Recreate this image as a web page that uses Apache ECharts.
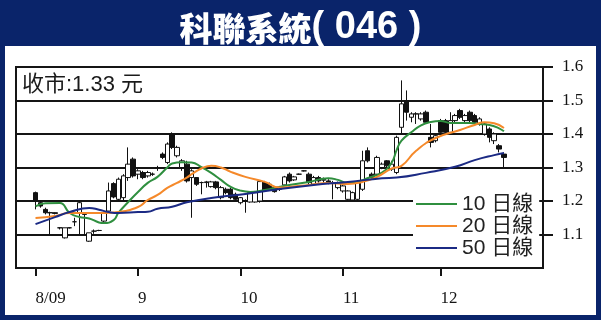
<!DOCTYPE html>
<html>
<head>
<meta charset="utf-8">
<script src="https://cdn.jsdelivr.net/npm/echarts@6/dist/echarts.min.js"></script>
<style>html,body{margin:0;padding:0;background:#0a246a;}#c{width:601px;height:320px;}</style>
</head>
<body>
<div id="c"></div>
<script>
// ---- data ----
const titleName = '科聯系統';
const titleCode = '046';
const closeLabel = '收市:1.33 元';
const slotCount = 109;              // trading-day slots on the x axis
const monthStart = [4, 25, 46, 67, 87];
const monthLabels = ['8/09', '9', '10', '11', '12'];
const yTicks = [1.1, 1.2, 1.3, 1.4, 1.5, 1.6];
const firstDay = 4;
// [open, close, low, high]
const candles = [
  [1.225,1.200,1.175,1.228],[1.195,1.185,1.180,1.200],[1.175,1.165,1.160,1.180],[1.165,1.165,1.100,1.168],
  [1.165,1.163,1.160,1.166],[1.120,1.120,1.115,1.121],[1.090,1.120,1.088,1.120],[1.120,1.120,1.118,1.121],
  [1.138,1.138,1.125,1.150],[1.165,1.195,1.100,1.198],[1.165,1.160,1.100,1.166],[1.080,1.105,1.078,1.105],
  [1.110,1.110,1.102,1.115],[1.112,1.112,1.110,1.114],[1.140,1.165,1.135,1.168],[1.170,1.230,1.165,1.255],
  [1.252,1.212,1.208,1.256],[1.205,1.265,1.200,1.270],[1.210,1.275,1.200,1.280],[1.270,1.310,1.260,1.360],
  [1.325,1.275,1.270,1.330],[1.280,1.290,1.265,1.295],[1.285,1.270,1.265,1.290],[1.275,1.285,1.270,1.290],
  [1.280,1.280,1.275,1.285],[1.300,1.300,1.290,1.305],[1.340,1.330,1.325,1.345],[1.315,1.370,1.310,1.375],
  [1.400,1.360,1.355,1.405],[1.335,1.360,1.330,1.365],[1.300,1.320,1.290,1.325],[1.310,1.260,1.255,1.320],
  [1.270,1.290,1.150,1.295],[1.270,1.250,1.245,1.270],[1.255,1.255,1.220,1.258],[1.255,1.257,1.240,1.260],
  [1.243,1.257,1.240,1.260],[1.257,1.240,1.235,1.260],[1.210,1.240,1.205,1.245],[1.235,1.225,1.220,1.240],
  [1.235,1.210,1.205,1.240],[1.220,1.205,1.200,1.225],[1.195,1.210,1.190,1.212],[1.200,1.200,1.165,1.205],
  [1.197,1.225,1.195,1.228],[1.197,1.225,1.195,1.230],[1.200,1.258,1.195,1.260],[1.255,1.235,1.230,1.260],
  [1.250,1.233,1.230,1.255],[1.240,1.228,1.225,1.242],[1.235,1.240,1.230,1.245],[1.248,1.272,1.245,1.275],
  [1.280,1.260,1.255,1.285],[1.263,1.272,1.260,1.275],[1.280,1.280,1.278,1.282],[1.290,1.290,1.288,1.292],
  [1.280,1.255,1.250,1.285],[1.250,1.270,1.245,1.275],[1.270,1.260,1.255,1.275],[1.262,1.265,1.255,1.270],
  [1.260,1.255,1.250,1.265],[1.255,1.255,1.205,1.260],[1.240,1.255,1.235,1.258],[1.230,1.245,1.225,1.248],
  [1.205,1.230,1.200,1.232],[1.203,1.225,1.200,1.228],[1.205,1.255,1.200,1.260],[1.235,1.320,1.230,1.350],
  [1.350,1.320,1.315,1.360],[1.280,1.270,1.265,1.285],[1.280,1.330,1.275,1.335],[1.300,1.310,1.295,1.315],
  [1.320,1.305,1.300,1.322],[1.295,1.310,1.290,1.320],[1.285,1.390,1.280,1.395],[1.420,1.490,1.400,1.560],
  [1.500,1.465,1.440,1.530],[1.450,1.460,1.435,1.465],[1.460,1.460,1.430,1.465],[1.445,1.460,1.440,1.465],
  [1.465,1.435,1.430,1.470],[1.390,1.375,1.360,1.430],[1.380,1.395,1.375,1.400],[1.440,1.405,1.400,1.445],
  [1.440,1.405,1.400,1.445],[1.405,1.440,1.400,1.465],[1.440,1.455,1.435,1.460],[1.470,1.450,1.445,1.475],
  [1.440,1.455,1.435,1.460],[1.465,1.440,1.435,1.470],[1.455,1.435,1.430,1.460],[1.430,1.445,1.425,1.450],
  [1.400,1.430,1.395,1.435],[1.415,1.390,1.375,1.420],[1.380,1.400,1.370,1.405],[1.365,1.355,1.345,1.370],
  [1.340,1.330,1.300,1.345]
];
const maNames = ['10 日線', '20 日線', '50 日線'];
// [day index, value]
const ma10 = [[4,1.184],[6,1.193],[9,1.194],[11,1.164],[13,1.152],[15,1.148],[17,1.136],[18,1.134],[20,1.143],[21,1.165],[23,1.197],[25,1.227],[27,1.254],[29,1.272],[31,1.300],[32,1.312],[34,1.316],[36,1.315],[38,1.301],[40,1.284],[42,1.263],[44,1.242],[46,1.231],[48,1.227],[51,1.233],[54,1.242],[56,1.248],[60,1.257],[64,1.268],[66,1.263],[68,1.254],[70,1.257],[72,1.268],[75,1.285],[77,1.315],[78,1.352],[79,1.380],[81,1.405],[83,1.426],[85,1.436],[87,1.439],[89,1.433],[91,1.433],[93,1.433],[95,1.430],[97,1.427],[99,1.417],[100,1.408]];
const ma20 = [[4,1.149],[8,1.155],[11,1.164],[15,1.164],[18,1.164],[21,1.167],[25,1.182],[27,1.203],[29,1.218],[31,1.239],[33,1.254],[35,1.270],[36,1.280],[38,1.297],[40,1.305],[42,1.300],[44,1.287],[47,1.272],[51,1.257],[54,1.240],[56,1.242],[60,1.248],[64,1.254],[68,1.251],[71,1.257],[74,1.272],[77,1.297],[79,1.305],[82,1.350],[86,1.388],[91,1.412],[94,1.427],[96,1.435],[98,1.432],[100,1.418]];
const ma50 = [[4,1.131],[8,1.152],[11,1.167],[15,1.179],[17,1.174],[19,1.167],[21,1.164],[25,1.167],[27,1.168],[29,1.177],[32,1.183],[35,1.196],[40,1.209],[47,1.221],[54,1.236],[61,1.248],[68,1.257],[75,1.268],[78,1.270],[84,1.284],[90,1.302],[94,1.322],[98,1.337],[100,1.343]];

// ---- chart ----
const categories = Array.from({length: slotCount}, (_, i) => {
  const k = monthStart.indexOf(i);
  return k >= 0 ? monthLabels[k] : String(i);
});
const candleRows = candles.map((c, k) => [firstDay + k, c[0], c[1], c[2], c[3]]);
const isMonth = (idx) => monthStart.indexOf(idx) >= 0;

const chart = echarts.init(document.getElementById('c'), null, {renderer: 'canvas'});
const serif = '"Liberation Serif", "DejaVu Serif", serif';
const sans = '"Liberation Sans", "Noto Sans CJK TC", sans-serif';
chart.setOption({
  backgroundColor: '#0a246a',
  animation: false,
  title: {
    text: '{a|' + titleName + '}{b|( ' + titleCode + ' )}', left: 'center', top: 3,
    textStyle: {
      rich: {
        a: {color: '#ffffff', fontSize: 33, fontWeight: 900, fontFamily: '"Noto Sans CJK TC", sans-serif', verticalAlign: 'middle', lineHeight: 40},
        b: {color: '#ffffff', fontSize: 38, fontWeight: 'bold', fontFamily: '"Liberation Sans", sans-serif', verticalAlign: 'middle', lineHeight: 40}
      }
    }
  },
  graphic: [
    {type: 'rect', z: -10, shape: {x: 5, y: 46, width: 591, height: 269}, style: {fill: '#ffffff'}},
    {type: 'text', z: 10, style: {text: closeLabel, x: 22, y: 85, verticalAlign: 'middle', fill: '#1a1a1a', fontSize: 22, fontFamily: sans}}
  ],
  legend: {
    data: maNames, orient: 'vertical', left: 413, top: 190, itemGap: 0,
    itemWidth: 41, itemHeight: 2, icon: 'rect', selectedMode: false,
    backgroundColor: '#ffffff', padding: [3, 6, 4, 3],
    textStyle: {fontSize: 21, lineHeight: 22, color: '#222', fontFamily: sans}
  },
  grid: {left: 16, top: 67, width: 527, height: 201, show: true, borderColor: '#151515', borderWidth: 2, backgroundColor: 'transparent'},
  xAxis: {
    type: 'category', data: categories, boundaryGap: false,
    axisLine: {show: false},
    axisTick: {show: true, interval: (i) => isMonth(i), length: 8, lineStyle: {color: '#151515', width: 2}},
    axisLabel: {interval: (i) => isMonth(i), align: 'left', margin: 22, fontSize: 17, color: '#151515', fontFamily: serif},
    splitLine: {show: false}
  },
  yAxis: {
    type: 'value', position: 'right', min: 1.0, max: 1.6, interval: 0.1,
    axisLine: {show: false},
    axisTick: {show: true, length: 10, customValues: yTicks, lineStyle: {color: '#151515', width: 2}},
    axisLabel: {customValues: yTicks, margin: 19, fontSize: 17, color: '#151515', fontFamily: serif,
      verticalAlign: 'middle', padding: [0, 0, 11, 0], formatter: (v) => v.toFixed(1)},
    splitLine: {show: true, lineStyle: {color: '#151515', width: 2}}
  },
  series: [
    {
      type: 'candlestick', data: candleRows, encode: {x: 0, y: [1, 2, 3, 4]}, barWidth: 5,
      itemStyle: {color: '#ffffff', color0: '#111111', borderColor: '#111111', borderColor0: '#111111', borderWidth: 1}
    },
    {name: maNames[0], type: 'line', data: ma10, smooth: true, showSymbol: false, lineStyle: {color: '#2f8f3f', width: 2}, itemStyle: {color: '#2f8f3f'}},
    {name: maNames[1], type: 'line', data: ma20, smooth: true, showSymbol: false, lineStyle: {color: '#f5892a', width: 2}, itemStyle: {color: '#f5892a'}},
    {name: maNames[2], type: 'line', data: ma50, smooth: true, showSymbol: false, lineStyle: {color: '#1b2a84', width: 2}, itemStyle: {color: '#1b2a84'}}
  ]
});
</script>
</body>
</html>
